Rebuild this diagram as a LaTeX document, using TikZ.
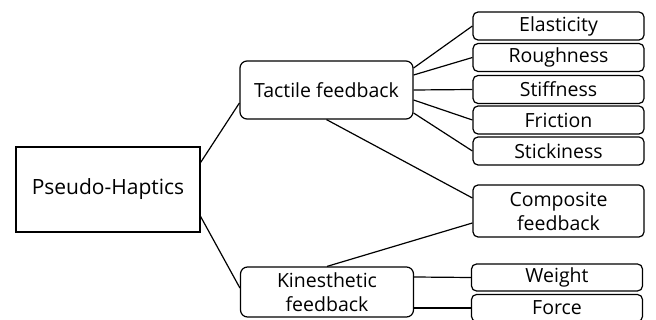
\documentclass[tikz,border=0pt]{standalone}
\usepackage{fontspec}
\setmainfont{Open Sans}
\usetikzlibrary{positioning}
\tikzset{
  root/.style={draw,line width=1.2pt,minimum width=184pt,minimum height=85pt,inner sep=0pt,font=\fontsize{21}{24}\selectfont},
  mid/.style={draw,line width=1.2pt,rounded corners=7pt,minimum width=173pt,inner sep=0pt,align=center,font=\fontsize{19.5}{24}\selectfont},
  leaf/.style={draw,line width=1.2pt,rounded corners=5pt,minimum width=171pt,minimum height=28pt,inner sep=0pt,align=center,font=\fontsize{19.5}{24}\selectfont},
  link/.style={line width=1.2pt},
}
\begin{document}
\begin{tikzpicture}[x=1pt,y=-1pt]
    \useasboundingbox (0,0) rectangle (656,320);
    % root and the two kinds of feedback
    \node[root] (ph) at (108,189.5) {Pseudo-Haptics};
    \node[mid,minimum height=58pt] (tac) at (326.5,90) {Tactile feedback};
    \node[mid,minimum height=50pt] (kin) at (327,292) {Kinesthetic\\feedback};
    % tactile leaves
    \node[leaf] (elas) at (558.5,26) {Elasticity};
    \node[leaf] (rough) at (558.5,57.5) {Roughness};
    \node[leaf] (stiff) at (558.5,89.5) {Stiffness};
    \node[leaf] (fric) at (558.5,120) {Friction};
    \node[leaf] (stick) at (558.5,151) {Stickiness};
    \node[leaf,minimum height=52pt] (comp) at (558.5,211) {Composite\\feedback};
    % kinesthetic leaves
    \node[leaf,minimum height=27pt] (weight) at (557,277.5) {Weight};
    \node[leaf,minimum height=27pt] (force) at (557,308) {Force};
    % links
    \draw[link] ([yshift=27pt]ph.east) -- ([yshift=-13pt]tac.west);
    \draw[link] ([yshift=-27pt]ph.east) -- ([yshift=4pt]kin.west);
    \draw[link] ([yshift=22pt]tac.east) -- (elas.west);
    \draw[link] ([yshift=15pt]tac.east) -- (rough.west);
    \draw[link] (tac.east) -- (stiff.west);
    \draw[link] ([yshift=-10pt]tac.east) -- (fric.west);
    \draw[link] ([yshift=-23pt]tac.east) -- (stick.west);
    \draw[link] (tac.south) -- ([yshift=13pt]comp.west);
    \draw[link] (kin.north) -- ([yshift=-12pt]comp.west);
    \draw[link] ([yshift=15pt]kin.east) -- (weight.west);
    \draw[link] ([yshift=-16pt]kin.east) -- (force.west);
\end{tikzpicture}
\end{document}
